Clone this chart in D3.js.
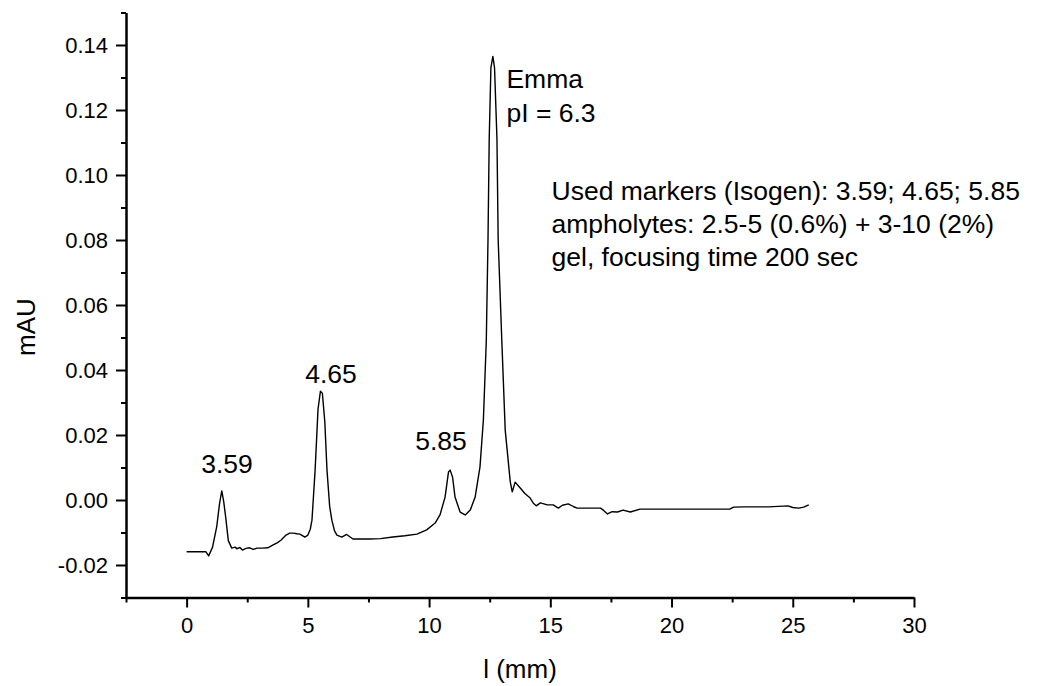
<!DOCTYPE html>
<html>
<head>
<meta charset="utf-8">
<script src="https://cdn.jsdelivr.net/npm/d3@7"></script>
<style>
  body { margin: 0; background: #fff; }
  svg text { font-family: "Liberation Sans", Arial, sans-serif; fill: #000; }
</style>
</head>
<body>
<div id="chart"></div>
<script>
// electropherogram trace
var posMm = [0, 0.79, 0.91, 1.07, 1.24, 1.36, 1.45, 1.53, 1.61, 1.72, 1.86, 2.0, 2.07, 2.2, 2.3, 2.45, 2.6, 2.75, 2.9, 3.14,
  3.35, 3.55, 3.75, 3.9, 4.1, 4.25, 4.4, 4.55, 4.67, 4.88, 5.0, 5.1, 5.17, 5.3, 5.42, 5.52, 5.6, 5.7, 5.79, 5.9,
  5.99, 6.1, 6.2, 6.4, 6.6, 6.86, 7.2, 7.56, 8.0, 8.5, 9.0, 9.5, 9.9, 10.25, 10.45, 10.66, 10.8, 10.87, 10.97, 11.07,
  11.28, 11.49, 11.7, 11.9, 12.1, 12.24, 12.36, 12.43, 12.48, 12.55, 12.63, 12.7, 12.8, 12.85, 13.0, 13.14, 13.35, 13.43, 13.55, 13.76,
  13.95, 14.17, 14.3, 14.42, 14.59, 14.88, 15.12, 15.33, 15.5, 15.74, 15.95, 16.1, 16.6, 17.07, 17.2, 17.36, 17.55, 17.77, 18.0, 18.3,
  18.7, 19.5, 20.5, 21.5, 22.4, 22.56, 23.0, 23.5, 24.0, 24.8, 25.0, 25.25, 25.45, 25.66];
var signal = [-0.0159, -0.0159, -0.0172, -0.0145, -0.0083, -0.0010, 0.0028, -0.0005, -0.0052, -0.0125, -0.0148, -0.0145, -0.0150, -0.0146, -0.0154, -0.0149, -0.0147, -0.0152, -0.0148, -0.0148,
  -0.0147, -0.0139, -0.0131, -0.0123, -0.0108, -0.0102, -0.0102, -0.0104, -0.0105, -0.0114, -0.0108, -0.0090, -0.0062, 0.0092, 0.0280, 0.0335, 0.0328, 0.0240, 0.0092, -0.0020,
  -0.0062, -0.0095, -0.0108, -0.0114, -0.0106, -0.0120, -0.0120, -0.0120, -0.0119, -0.0114, -0.0110, -0.0105, -0.0092, -0.0071, -0.0046, 0.0009, 0.0086, 0.0092, 0.0070, 0.0009,
  -0.0037, -0.0046, -0.0031, 0.0009, 0.0102, 0.0246, 0.049, 0.080, 0.111, 0.133, 0.1365, 0.133, 0.111, 0.080, 0.049, 0.0215, 0.0055, 0.0025, 0.0055, 0.0037,
  0.0020, 0.0006, -0.0010, -0.0018, -0.0009, -0.0015, -0.0015, -0.0025, -0.0016, -0.0012, -0.0020, -0.0025, -0.0025, -0.0025, -0.0032, -0.0043, -0.0036, -0.0037, -0.0031, -0.0037,
  -0.0028, -0.0028, -0.0028, -0.0028, -0.0028, -0.0022, -0.0021, -0.0021, -0.0021, -0.0018, -0.0023, -0.0025, -0.0022, -0.0015];

var xTicks = [0, 5, 10, 15, 20, 25, 30];
var xMinor = [-2.5, 2.5, 7.5, 12.5, 17.5, 22.5, 27.5];
var yTicks = [-0.02, 0, 0.02, 0.04, 0.06, 0.08, 0.10, 0.12, 0.14];
var yMinor = [-0.03, -0.01, 0.01, 0.03, 0.05, 0.07, 0.09, 0.11, 0.13, 0.15];

// annotations (text, x in mm, y in mAU)
var labelText = ["3.59", "4.65", "5.85", "Emma", "pI = 6.3",
  "Used markers (Isogen): 3.59; 4.65; 5.85",
  "ampholytes: 2.5-5 (0.6%) + 3-10 (2%)",
  "gel, focusing time 200 sec"];
var labelX = [0.6, 4.89, 9.43, 13.19, 13.19, 15.05, 15.05, 15.05];
var labelY = [0.0083, 0.036, 0.0154, 0.1268, 0.1163, 0.0923, 0.0822, 0.072];

var width = 1062, height = 686;

var x = d3.scaleLinear().domain([-2.5, 30]).range([126, 914]);
var y = d3.scaleLinear().domain([-0.03, 0.15]).range([597.5, 12.5]);

var svg = d3.select("#chart").append("svg")
    .attr("width", width)
    .attr("height", height);

var fmt = function(d) { return d3.format(".2f")(d).replace("\u2212", "-"); };

// minor ticks first, then major axis on top
svg.append("g")
    .attr("transform", "translate(0," + y(-0.03) + ")")
    .call(d3.axisBottom(x).tickValues(xMinor).tickSize(5).tickFormat(""))
    .call(function(g) { g.select(".domain").remove(); });
svg.append("g")
    .attr("transform", "translate(" + x(-2.5) + ",0)")
    .call(d3.axisLeft(y).tickValues(yMinor).tickSize(5).tickFormat(""))
    .call(function(g) { g.select(".domain").remove(); });

var xAxis = svg.append("g")
    .attr("class", "x axis")
    .attr("transform", "translate(0," + y(-0.03) + ")")
    .call(d3.axisBottom(x).tickValues(xTicks).tickSize(10).tickSizeOuter(0).tickPadding(10));
xAxis.selectAll("text").style("font-size", "22px");

var yAxis = svg.append("g")
    .attr("class", "y axis")
    .attr("transform", "translate(" + x(-2.5) + ",0)")
    .call(d3.axisLeft(y).tickValues(yTicks).tickSize(10).tickSizeOuter(0).tickPadding(8).tickFormat(fmt));
yAxis.selectAll("text").style("font-size", "22px");

svg.selectAll(".tick line").attr("stroke", "#000").attr("stroke-width", 2);
svg.selectAll(".domain").attr("stroke", "#000").attr("stroke-width", 2.5);

svg.append("text")
    .attr("x", (x(-2.5) + x(30)) / 2)
    .attr("y", 678)
    .attr("text-anchor", "middle")
    .style("font-size", "26px")
    .text("l (mm)");

svg.append("text")
    .attr("transform", "translate(35,327) rotate(-90)")
    .attr("text-anchor", "middle")
    .style("font-size", "26px")
    .text("mAU");

var line = d3.line()
    .x(function(d, i) { return x(posMm[i]); })
    .y(function(d) { return y(d); });

svg.append("path")
    .datum(signal)
    .attr("fill", "none")
    .attr("stroke", "#000")
    .attr("stroke-width", 1.4)
    .attr("stroke-linejoin", "round")
    .attr("d", line);

svg.selectAll(".note")
    .data(labelText)
    .enter().append("text")
    .attr("class", "note")
    .attr("x", function(d, i) { return x(labelX[i]); })
    .attr("y", function(d, i) { return y(labelY[i]); })
    .style("font-size", "26.5px")
    .text(function(d) { return d; });
</script>
</body>
</html>
